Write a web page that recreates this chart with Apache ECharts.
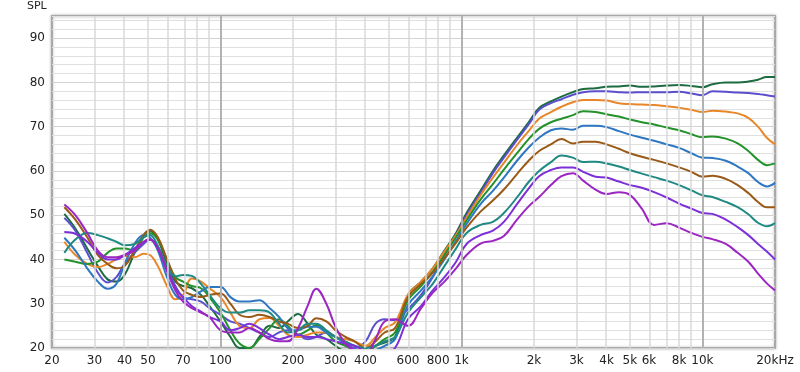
<!DOCTYPE html>
<html><head><meta charset="utf-8">
<script src="https://cdn.jsdelivr.net/npm/echarts@6/dist/echarts.min.js"></script>
<style>html,body{margin:0;padding:0;background:#fff}#c{width:800px;height:372px}</style>
</head><body><div id="c"></div>
<script>
// Frequencies (Hz) shared by every curve
const freqs = [22.5, 25, 28, 31, 34, 37, 40, 44, 48, 51, 55, 60, 65, 70, 76, 83, 90, 100, 110, 120, 132, 145, 160, 175, 190, 210, 230, 250, 275, 300, 330, 360, 400, 440, 480, 530, 600, 680, 760, 850, 950, 1050, 1200, 1350, 1500, 1700, 1900, 2100, 2350, 2600, 2900, 3200, 3600, 4000, 4500, 5000, 5600, 6300, 7100, 8000, 9000, 10000, 11000, 12500, 14000, 15500, 17000, 18500, 20000];

// SPL curves (dB)
const darkGreen = [50.3, 47, 42.5, 38.5, 35.5, 35, 36.5, 41.5, 45.5, 46.5, 44.5, 39, 35, 34, 33.5, 32, 29.5, 26, 22.5, 20, 20, 22.5, 25, 24.5, 26, 27.7, 25.5, 23, 22, 20.5, 19, 18, 19, 20.5, 21.2, 22.5, 32, 35, 38, 42, 46, 50.5, 55.5, 60, 63.5, 67.5, 71, 74.2, 75.7, 76.8, 77.8, 78.5, 78.7, 79, 79.1, 79.3, 79.0, 79.1, 79.3, 79.4, 79.2, 78.9, 79.6, 80, 80, 80.2, 80.6, 81.2, 81.2];
const slateBlue = [49.4, 46.5, 41.5, 37, 34.8, 36, 39, 41.5, 43.5, 44.5, 43, 38, 34, 31.5, 31, 30.5, 29, 27.5, 26, 25.5, 24.5, 23.5, 22.5, 23.5, 24, 23, 22, 22.5, 23.5, 22.5, 21, 20, 21.5, 25.5, 26.5, 26.3, 28.8, 32, 36, 41, 45.5, 50, 55, 59.5, 63, 67, 70.5, 73.8, 75.3, 76.2, 77.2, 77.8, 78.0, 78.0, 77.8, 77.7, 77.8, 77.8, 77.8, 77.9, 77.5, 77.1, 78.0, 77.9, 77.7, 77.6, 77.4, 77.1, 76.8];
const orange = [44, 41, 39, 38.3, 39, 40, 40.8, 40.5, 41.3, 41, 38.5, 34, 31, 32, 35.7, 35, 33.5, 31.5, 28, 25, 24.5, 26.5, 26.8, 25, 23, 22.5, 23, 23.5, 23.5, 22.5, 22, 21.5, 20.5, 22.5, 24.5, 25.8, 32, 35, 38, 41.8, 45.5, 49.5, 54.5, 58.5, 61.8, 65.8, 69, 71.8, 73.3, 74.5, 75.5, 76.0, 76.0, 75.9, 75.3, 75.1, 75.0, 74.9, 74.6, 74.3, 73.8, 73.3, 73.6, 73.4, 73.0, 72.0, 70, 67.5, 66];
const green = [40, 39.5, 39, 39.5, 41.5, 42.5, 42.5, 42, 45, 46, 44.5, 40, 36, 35, 34, 33.5, 31.5, 28, 24, 21, 20, 22, 24.5, 26.5, 25, 23, 24, 25.2, 23.5, 21.5, 20.5, 19.5, 19, 20.5, 22, 23.5, 30.8, 34, 37.2, 41, 45, 48.8, 53.5, 57, 60.3, 64, 67.2, 69.5, 71, 71.8, 72.6, 73.5, 73.3, 72.8, 72.3, 71.6, 71.0, 70.5, 69.8, 69.2, 68.3, 67.6, 67.8, 67.3, 66.2, 64.5, 62.5, 61.3, 61.7];
const blue = [44.9, 42, 38, 35, 33.4, 34.5, 39, 43.5, 45.5, 45, 42, 36, 32, 31, 31.5, 32.8, 33.8, 33.8, 31.5, 30.5, 30.5, 30.8, 29, 27, 24.5, 24, 24.8, 24.8, 23.5, 22.5, 21, 19, 18.5, 19.5, 20.5, 22, 29.7, 33, 36.2, 40, 44.2, 48, 52.5, 55.5, 58.5, 62.3, 65.3, 67.5, 69.2, 69.6, 69.3, 70.2, 70.2, 69.9, 69.0, 68.2, 67.5, 66.8, 66.0, 65.2, 64.0, 63.0, 62.9, 62.3, 61.0, 59.5, 57.5, 56.5, 57.3];
const brown = [51.8, 49, 45, 41, 39, 38, 38.5, 42, 45.5, 46.7, 45, 40, 35.5, 33, 32, 31.5, 32, 32.3, 30, 27.5, 27, 27.5, 27, 26, 25.5, 24.5, 25, 26.7, 26, 24, 22.5, 21.5, 20, 21.5, 23.5, 24.5, 31.5, 34.5, 37, 40.3, 43.8, 47.2, 50.8, 53.3, 55.8, 59.3, 62.3, 64.5, 66, 67.2, 66.2, 66.6, 66.6, 66, 65, 64, 63.2, 62.5, 61.7, 60.8, 59.8, 58.7, 58.9, 58.2, 56.8, 55, 53, 51.8, 51.8];
const teal = [41.5, 44.5, 46, 45.5, 44.8, 44, 43.2, 43.5, 45, 45.5, 43, 38.5, 36.2, 36.5, 36.3, 34.5, 32, 29, 28, 28, 28.5, 28.5, 28, 25.5, 23.5, 24, 25.5, 25.5, 24, 22.5, 21.5, 20.5, 20, 20.5, 21.5, 22.5, 28, 31.5, 34.5, 38.5, 42.5, 46, 47.8, 48.5, 50.5, 54, 57.5, 60, 62, 63.5, 63, 62, 62.1, 61.7, 61, 60.2, 59.4, 58.6, 57.8, 56.8, 55.6, 54.5, 54.1, 53, 51.8, 50.2, 48.3, 47.5, 48.2];
const violet = [46.2, 45.8, 44, 41.5, 40, 40, 41, 42.5, 44, 44.5, 42.5, 37.5, 33.5, 31.5, 29.5, 28.2, 27, 26, 24, 24.5, 25.5, 24.5, 23, 22, 22.5, 23, 22.5, 22.5, 22, 21.5, 21, 20.5, 19.5, 19.5, 19, 20, 26.5, 29.5, 33, 36, 39.5, 43.5, 45.5, 46.5, 48.5, 52.5, 56, 58.8, 60.2, 60.8, 60.8, 59.8, 58.7, 58.5, 57.6, 56.8, 56.2, 55.2, 54, 52.6, 51.5, 50.5, 50.3, 49, 47.3, 45.5, 43.5, 41.8, 40];
const purple = [52.4, 50, 46, 42, 40.5, 40.5, 41, 42, 44, 44.5, 42.5, 37.5, 33, 30.5, 29, 28, 27, 24, 23.5, 23.5, 24.5, 23.5, 22, 21.5, 21.5, 24.5, 29.5, 33.4, 30, 24.8, 21, 19.5, 18.5, 22, 26, 26.5, 25, 29, 32.5, 35, 38, 41, 43.6, 44.2, 45.3, 49, 52, 54.1, 56.8, 58.8, 59.5, 57.8, 55.8, 54.8, 55.2, 54.6, 51.5, 47.8, 48.2, 47.2, 46, 45.1, 44.6, 43.5, 41.5, 39.5, 36.8, 34.6, 33];

const curveNames = ['c1','c2','c3','c4','c5','c6','c7','c8','c9'];
const curveData = [darkGreen, slateBlue, orange, green, blue, brown, teal, violet, purple];
const curveColors = ['#1d6b40', '#5a4fcc', '#e8862a', '#23922b', '#2e78c2', '#9a5a17', '#1f8a84', '#7d30d8', '#9c26c2'];

// Axis ticks
const xTickFreqs = [20, 30, 40, 50, 70, 100, 200, 300, 400, 600, 800, 1000, 2000, 3000, 4000, 5000, 6000, 8000, 10000, 20000];
const xTickLabels = ['20', '30', '40', '50', '70', '100', '200', '300', '400', '600', '800', '1k', '2k', '3k', '4k', '5k', '6k', '8k', '10k', '20kHz'];
const xGridFreqs = [30, 40, 50, 60, 70, 80, 90, 100, 200, 300, 400, 500, 600, 700, 800, 900, 1000, 2000, 3000, 4000, 5000, 6000, 7000, 8000, 9000, 10000];
const decadeFreqs = [100, 1000, 10000];
const yMin = 20, yMax = 95, yStep = 2, yLabelStep = 10;

const FONT = 'DejaVu Sans';
const chart = echarts.init(document.getElementById('c'));

const series = curveData.map((d, i) => ({
  name: curveNames[i],
  type: 'line',
  data: d.map((v, j) => [Math.log10(freqs[j]), v]),
  smooth: 0.4,
  showSymbol: false,
  symbol: 'none',
  clip: true,
  lineStyle: { color: curveColors[i], width: 2 },
  z: 3,
  silent: true
}));

series.unshift({
  type: 'line',
  data: [],
  z: 1,
  silent: true,
  markLine: {
    silent: true,
    symbol: ['none', 'none'],
    animation: false,
    label: { show: false },
    data: xGridFreqs.map(f => ({
      xAxis: Math.log10(f),
      lineStyle: {
        type: 'solid',
        color: decadeFreqs.includes(f) ? '#b2b2b2' : '#d8d8d8',
        width: decadeFreqs.includes(f) ? 2 : 1.5
      }
    }))
  }
});

chart.setOption({
  animation: false,
  backgroundColor: '#fff',
  title: {
    text: 'SPL', left: 27, top: 1, padding: 0,
    textStyle: { fontFamily: FONT, fontSize: 11, fontWeight: 'normal', color: '#222' }
  },
  grid: {
    left: 52, right: 25, top: 16, bottom: 24,
    show: true, backgroundColor: '#fff',
    borderColor: '#a8a8a8', borderWidth: 2,
    shadowColor: 'rgba(0,0,0,0.25)', shadowBlur: 3
  },
  xAxis: {
    type: 'value',
    min: Math.log10(20), max: Math.log10(20000),
    axisLine: { show: false },
    axisTick: { show: false },
    splitLine: { show: false },
    axisLabel: {
      customValues: xTickFreqs.map(f => Math.log10(f)),
      formatter: (v) => {
        let best = 0, bd = 1e9;
        xTickFreqs.forEach((f, i) => { const d = Math.abs(Math.log10(f) - v); if (d < bd) { bd = d; best = i; } });
        return xTickLabels[best];
      },
      margin: 7, fontFamily: FONT, fontSize: 12, color: '#222'
    }
  },
  yAxis: {
    type: 'value', min: yMin, max: yMax, interval: yStep,
    axisLine: { show: false },
    axisTick: { show: false },
    splitLine: { show: true, lineStyle: { color: ['#d2d2d2', '#e0e0e0', '#e0e0e0', '#e0e0e0', '#e0e0e0'], width: 1 } },
    axisLabel: {
      formatter: (v) => (v % yLabelStep === 0 && v < yMax) ? String(v) : '',
      margin: 7, fontFamily: FONT, fontSize: 12, color: '#222'
    }
  },
  series: series
});
</script></body></html>
